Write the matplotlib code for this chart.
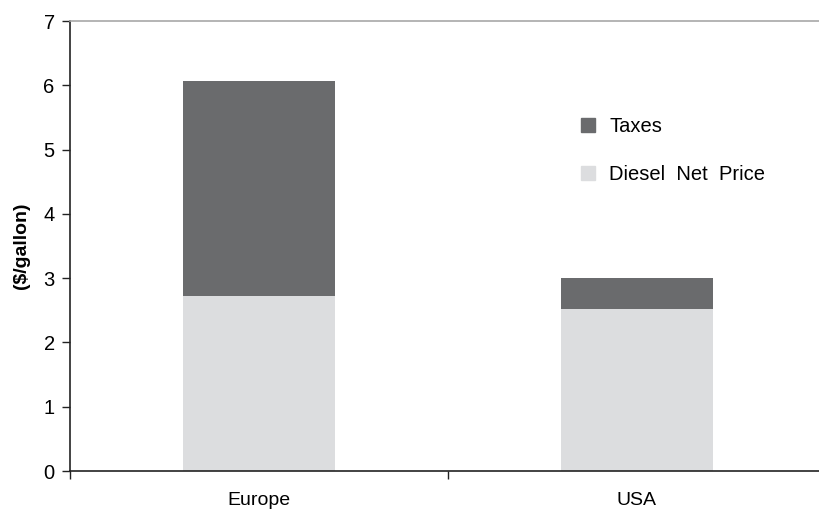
import matplotlib.pyplot as plt
from matplotlib.patches import Patch

plt.rcParams['font.family'] = ['Liberation Sans', 'DejaVu Sans']

regions = ['Europe', 'USA']
net_price = [2.72, 2.52]
taxes = [3.35, 0.48]
yticks = [0, 1, 2, 3, 4, 5, 6, 7]

dark = '#6a6b6d'
light = '#dcdddf'

fig = plt.figure(figsize=(8.2, 5.11), dpi=100)
ax = fig.add_axes([70/820, 40/511, 756/820, 450/511])

x = range(len(regions))
ax.bar(x, net_price, width=0.4, color=light, edgecolor='none')
ax.bar(x, taxes, width=0.4, bottom=net_price, color=dark, edgecolor='none')

ax.set_xlim(-0.5, 1.5)
ax.set_ylim(0, 7)
ax.set_yticks(yticks)
ax.set_xticks([0.5 - 1, 0.5])  # category boundaries
ax.set_xticklabels([])
ax.set_xticks(list(x), minor=True)
ax.set_xticklabels(regions, minor=True)
ax.tick_params(axis='x', which='minor', length=0, pad=15, labelsize=14)
ax.tick_params(axis='x', which='major', length=6, width=1, color='#222222')
ax.tick_params(axis='y', length=6, width=1, color='#222222', pad=5, labelsize=14.5)

for side in ['left', 'bottom']:
    ax.spines[side].set_color('#222222')
    ax.spines[side].set_linewidth(1.2)
ax.spines['top'].set_color('#a8a8a8')
ax.spines['top'].set_linewidth(1.2)
ax.spines['right'].set_visible(False)

ax.set_ylabel('($/gallon)', fontsize=14, fontweight='bold', labelpad=10)

handles = [Patch(color=dark, label='Taxes'), Patch(color=light, label='Diesel  Net  Price')]
ax.legend(handles=handles, frameon=False, fontsize=14.5, handlelength=0.7, handleheight=0.7,
          handletextpad=0.7, labelspacing=1.4, loc='upper left', bbox_to_anchor=(0.652, 0.826))

fig.savefig('out.png', dpi=100)
